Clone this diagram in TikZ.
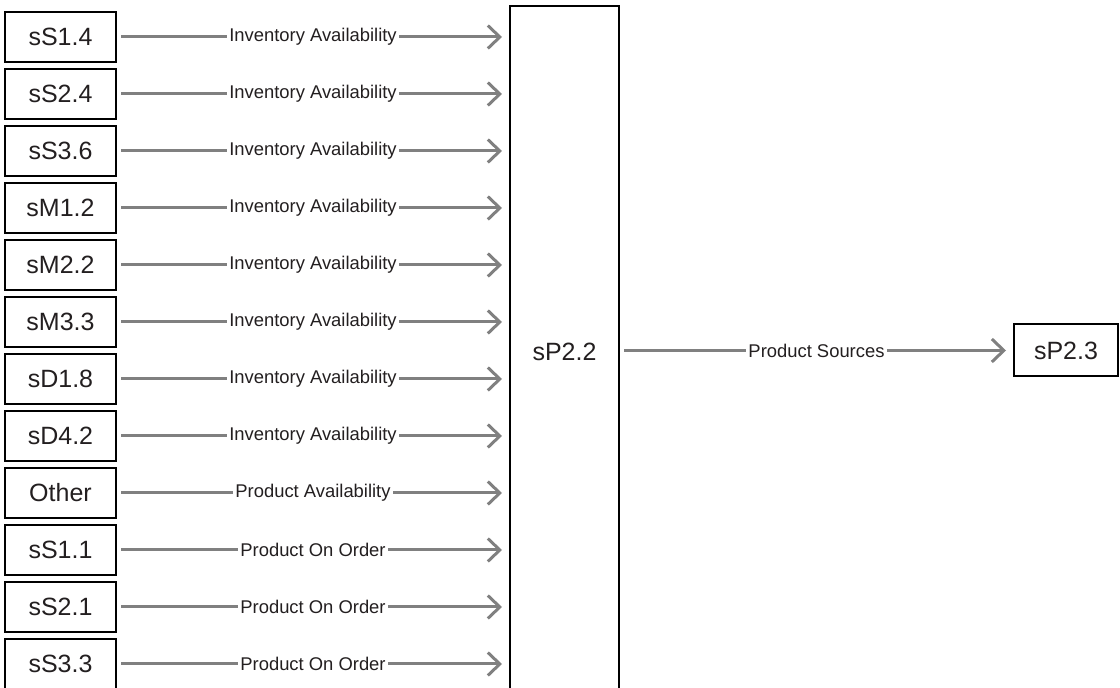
\documentclass[tikz,border=0pt]{standalone}
\usepackage{fontspec}
\setmainfont{Liberation Sans}
\usetikzlibrary{arrows.meta}
\definecolor{ink}{RGB}{35,31,32}
\definecolor{flow}{RGB}{128,128,128}
\tikzset{
  px/.style={x=0.5pt,y=-0.5pt},
  src/.style={draw=black,line width=1pt,minimum width=55.5pt,minimum height=25pt,
    inner sep=0pt,font=\fontsize{12.5}{14}\selectfont,text=ink},
  flowline/.style={draw=flow,line width=1.5pt,
    -{Straight Barb[length=6pt,width=11.5pt,line width=1.5pt]},
    shorten <=2pt,shorten >=3.5pt},
  flowlabel/.style={fill=white,inner sep=1pt,font=\fontsize{9.2}{11}\selectfont,text=ink}
}
\begin{document}
\begin{tikzpicture}[px]
\useasboundingbox (0,0) rectangle (1120,688);
\clip (0,0) rectangle (1120,688);
% central process box, running past the bottom edge
\node[draw=black,line width=1pt,minimum width=54.5pt,minimum height=345.5pt,
  inner sep=0pt,font=\fontsize{12.5}{14}\selectfont,text=ink] (big) at (564.5,352) {sP2.2};
% target box
\node[src,minimum width=52pt,minimum height=26pt] (out) at (1066,350.5) {sP2.3};
% source boxes with their flows into the central box
\foreach \name/\txt/\lab [count=\i from 0] in {
  s1/sS1.4/Inventory Availability,
  s2/sS2.4/Inventory Availability,
  s3/sS3.6/Inventory Availability,
  s4/sM1.2/Inventory Availability,
  s5/sM2.2/Inventory Availability,
  s6/sM3.3/Inventory Availability,
  s7/sD1.8/Inventory Availability,
  s8/sD4.2/Inventory Availability,
  s9/Other/Product Availability,
  s10/sS1.1/Product On Order,
  s11/sS2.1/Product On Order,
  s12/sS3.3/Product On Order} {
  \node[src] (\name) at (60.5,{37+57*\i}) {\txt};
  \draw[flowline] (\name.east) -- (\name.east -| big.west)
    node[midway,flowlabel] {\lab};
}
% output flow
\draw[flowline] (big.east |- out.west) -- (out.west)
  node[midway,flowlabel] {Product Sources};
\end{tikzpicture}
\end{document}
